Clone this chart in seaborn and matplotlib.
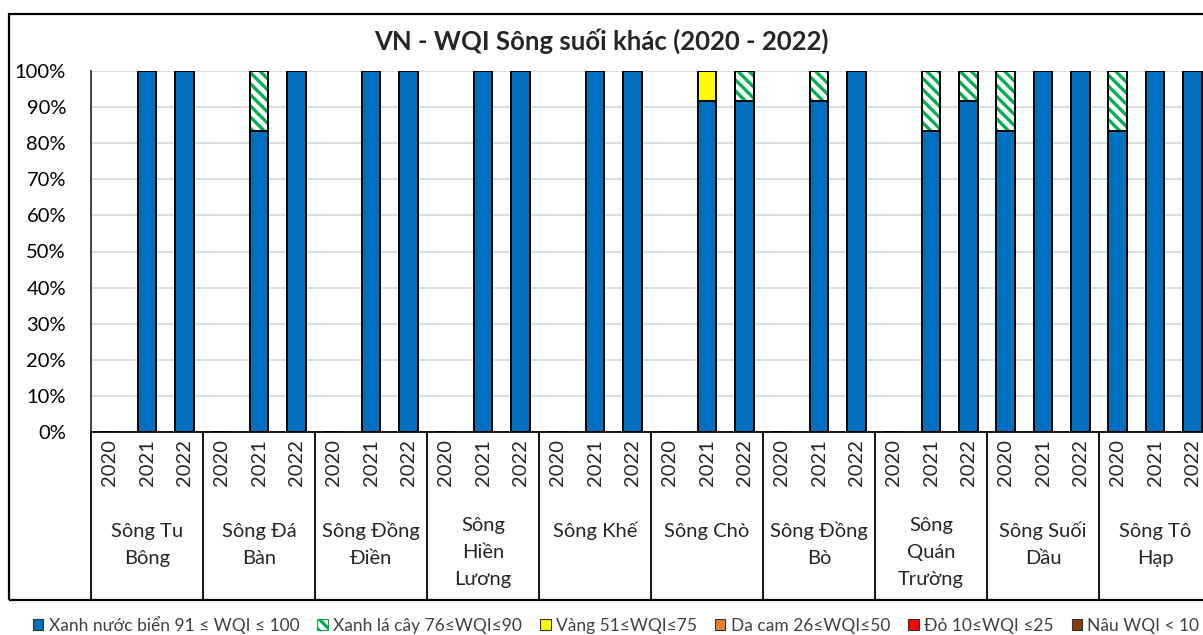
import numpy as np
import pandas as pd
import seaborn as sns
import matplotlib
matplotlib.use("Agg")
import matplotlib.pyplot as plt
from matplotlib.patches import Patch, Rectangle
from matplotlib.lines import Line2D
from matplotlib.transforms import blended_transform_factory
from matplotlib.ticker import PercentFormatter

sns.set_style("white")
plt.rcParams['font.family'] = ['Lato', 'DejaVu Sans']
plt.rcParams['hatch.linewidth'] = 2.4

# ---------------- data ----------------
groups = ["Sông Tu\nBông", "Sông Đá\nBàn", "Sông Đồng\nĐiền", "Sông\nHiền\nLương",
          "Sông Khế", "Sông Chò", "Sông Đồng\nBò", "Sông\nQuán\nTrường",
          "Sông Suối\nDầu", "Sông Tô\nHạp"]
years = ["2020", "2021", "2022"]

blue = [0, 100, 100,   0, 83.3, 100,   0, 100, 100,   0, 100, 100,   0, 100, 100,
        0, 91.7, 91.7,  0, 91.7, 100,  0, 83.3, 91.7,  83.3, 100, 100,  83.3, 100, 100]
green = [0, 0, 0,   0, 16.7, 0,   0, 0, 0,   0, 0, 0,   0, 0, 0,
         0, 0, 8.3,   0, 8.3, 0,   0, 16.7, 8.3,   16.7, 0, 0,   16.7, 0, 0]
yellow = [0, 0, 0,   0, 0, 0,   0, 0, 0,   0, 0, 0,   0, 0, 0,
          0, 8.3, 0,   0, 0, 0,   0, 0, 0,   0, 0, 0,   0, 0, 0]
orange = [0] * 30
red = [0] * 30
brown = [0] * 30

series_labels = ["Xanh nước biển 91 ≤ WQI ≤ 100", "Xanh lá cây 76≤WQI≤90",
                 "Vàng 51≤WQI≤75", "Da cam 26≤WQI≤50", "Đỏ 10≤WQI ≤25", "Nâu WQI < 10"]
series_colors = ["#0070C0", "#00B050", "#FFFF00", "#ED7D31", "#FF0000", "#843C0C"]

# ---------------- frame ----------------
W, H = 1203, 635
fig = plt.figure(figsize=(W / 100, H / 100), dpi=100)
ax_left, ax_right, ax_top, ax_bot = 91, 1211, 71, 432
ax = fig.add_axes([ax_left / W, 1 - ax_bot / H, (ax_right - ax_left) / W, (ax_bot - ax_top) / H])

keys = [f"{g}|{y}" for g in groups for y in years]
series = [blue, green, yellow, orange, red, brown]
cums = np.cumsum(np.array(series, dtype=float), axis=0)  # cumulative per layer

df = pd.DataFrame({"key": keys})
for i in range(len(series)):
    df[f"cum{i}"] = cums[i]

bw = 0.5
lw = 1.4
hatch = "\\\\\\"
# draw from the top layer downward
for i in reversed(range(len(series))):
    col = f"cum{i}"
    if i == 1:
        sns.barplot(data=df, x="key", y=col, order=keys, color="white", width=bw,
                    saturation=1, errorbar=None, edgecolor=series_colors[1],
                    hatch=hatch, linewidth=0, ax=ax)
        sns.barplot(data=df, x="key", y=col, order=keys, color="black", fill=False,
                    width=bw, errorbar=None, linewidth=lw, ax=ax)
    else:
        sns.barplot(data=df, x="key", y=col, order=keys, color=series_colors[i], width=bw,
                    saturation=1, errorbar=None, edgecolor="black", linewidth=lw, ax=ax)

ax.set_xlim(-0.5, len(keys) - 0.5)
ax.set_ylim(0, 100)
ax.set_yticks(np.arange(0, 101, 10))
ax.yaxis.set_major_formatter(PercentFormatter(100, decimals=0))
ax.tick_params(axis="y", length=0, pad=18, labelsize=14.5, labelcolor="black")
ax.set_xticks(range(len(keys)))
ax.set_xticklabels([y for g in groups for y in years], rotation=90, fontsize=14.5)
ax.tick_params(axis="x", length=0, pad=5)
ax.set_xlabel("")
ax.set_ylabel("")
ax.yaxis.grid(True, color="#D9D9D9", linewidth=1.3)
ax.set_axisbelow(True)
for s in ["top", "right"]:
    ax.spines[s].set_visible(False)
ax.spines["left"].set_color("#222222")
ax.spines["left"].set_linewidth(1.2)
ax.spines["bottom"].set_color("black")
ax.spines["bottom"].set_linewidth(1.3)

# group separators
frame_bottom = 600
tr = blended_transform_factory(ax.transData, fig.transFigure)
for b in np.arange(-0.5, len(keys), 3):
    ax.add_line(Line2D([b, b], [1 - ax_bot / H, 1 - frame_bottom / H], transform=tr,
                       color="black", linewidth=1.3, clip_on=False))

# group labels
for gi, g in enumerate(groups):
    lines = g.split("\n")
    start = 525 if len(lines) == 3 else 531
    for li, line in enumerate(lines):
        ax.text(gi * 3 + 1, 1 - (start + li * 27.5) / H, line, transform=tr,
                ha="center", va="center", fontsize=14.5, clip_on=False)

# title
fig.text(0.5, 1 - 41 / H, "VN - WQI Sông suối khác (2020 - 2022)", ha="center", va="center",
         fontsize=18.5, fontweight="bold")

# outer frame
fig.add_artist(Rectangle((9 / W, 1 - frame_bottom / H), (1230 - 9) / W, (frame_bottom - 14) / H,
                         transform=fig.transFigure, fill=False, edgecolor="black",
                         linewidth=1.6, clip_on=False))

# legend
handles = []
for i, c in enumerate(series_colors):
    if i == 1:
        handles.append(Patch(facecolor="white", edgecolor=c, hatch=hatch, linewidth=0.8))
    else:
        handles.append(Patch(facecolor=c, edgecolor="#333333", linewidth=0.8))
fig.legend(handles, series_labels, loc="center left", bbox_to_anchor=(33 / W, 1 - 625 / H),
           ncol=6, frameon=False, fontsize=12.5, handlelength=0.6, handleheight=0.6,
           handletextpad=0.3, columnspacing=1.05, borderaxespad=0, borderpad=0,
           labelcolor="#404040")

fig.savefig("out.png", dpi=100)
